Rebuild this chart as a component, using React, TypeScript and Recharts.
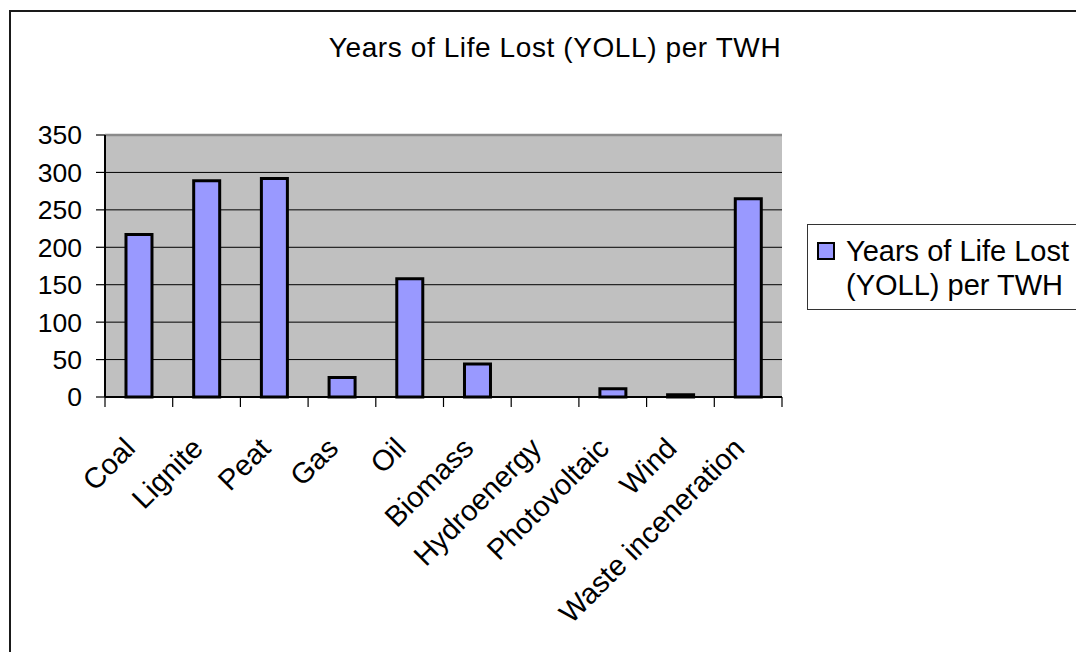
import { BarChart, Bar, XAxis, YAxis, CartesianGrid, Legend, ReferenceLine } from 'recharts';

const categories = [
    'Coal', 'Lignite', 'Peat', 'Gas', 'Oil', 'Biomass',
    'Hydroenergy', 'Photovoltaic', 'Wind', 'Waste inceneration'
];
const yollValues = [217, 289, 292, 26, 158, 44, 0, 11, 3, 265];
const yTicks = [0, 50, 100, 150, 200, 250, 300, 350];
const seriesName = 'Years of Life Lost (YOLL) per TWH';
const chartTitle = 'Years of Life Lost (YOLL) per TWH';

const data = categories.map((name, i) => ({ name, yoll: yollValues[i] }));

const FONT = '"Liberation Sans", Arial, sans-serif';
const W = 1076;
const H = 652;
const AXIS_Y = 397;
const BAND = (782 - 105) / categories.length;

function CategoryTick(props: any) {
    const { x, payload, index } = props;
    const half = payload && payload.offset ? payload.offset : BAND / 2;
    const ty = AXIS_Y + 53;
    const tx = x - 2;
    return (
        <g>
            <line x1={x - half} x2={x - half} y1={AXIS_Y} y2={AXIS_Y + 10} stroke="#000" strokeWidth={1.2} />
            {index === categories.length - 1 && (
                <line x1={x + half} x2={x + half} y1={AXIS_Y} y2={AXIS_Y + 10} stroke="#000" strokeWidth={1.2} />
            )}
            <text
                x={tx}
                y={ty}
                textAnchor="end"
                transform={`rotate(-45, ${tx}, ${ty})`}
                fontSize={29}
                fontFamily={FONT}
                fill="#000"
            >
                {payload.value}
            </text>
        </g>
    );
}

function LegendBox(props: any) {
    const item = props.payload && props.payload[0];
    return (
        <div style={{
            boxSizing: 'border-box',
            width: 300,
            height: 86,
            border: '1.5px solid #333',
            background: '#fff',
            position: 'relative',
            fontFamily: FONT
        }}>
            <div style={{
                position: 'absolute',
                left: 9,
                top: 17,
                width: 18,
                height: 18,
                boxSizing: 'border-box',
                border: '2px solid #000',
                background: item ? item.color : '#9999FF'
            }} />
            <div style={{
                position: 'absolute',
                left: 38,
                top: 9,
                fontSize: 29,
                lineHeight: '34px',
                color: '#000',
                textAlign: 'left',
                whiteSpace: 'nowrap'
            }}>
                Years of Life Lost<br />(YOLL) per TWH
            </div>
        </div>
    );
}

export default function App() {
    return (
        <div style={{ position: 'absolute', left: 0, top: 0, width: W, height: H, overflow: 'hidden', background: '#fff' }}>
            {/* outer frame, cut off at the right and bottom */}
            <div style={{
                position: 'absolute',
                left: 9,
                top: 10,
                width: 1100,
                height: 700,
                borderLeft: '2.5px solid #1a1a1a',
                borderTop: '2.5px solid #1a1a1a'
            }} />

            <div style={{
                position: 'absolute',
                left: 155,
                top: 34,
                width: 800,
                textAlign: 'center',
                fontFamily: FONT,
                fontSize: 28,
                lineHeight: '28px',
                letterSpacing: 0.6,
                color: '#000',
                whiteSpace: 'nowrap'
            }}>
                {chartTitle}
            </div>

            <div style={{ position: 'absolute', left: 0, top: 0 }}>
                <BarChart
                    width={W}
                    height={H}
                    data={data}
                    margin={{ top: 135, right: 294, bottom: 215, left: 40 }}
                    barCategoryGap="31%"
                >
                    <CartesianGrid vertical={false} stroke="#000" strokeWidth={1} fill="#C0C0C0" />
                    <XAxis
                        dataKey="name"
                        height={40}
                        interval={0}
                        tickLine={false}
                        axisLine={{ stroke: '#000', strokeWidth: 2 }}
                        tick={<CategoryTick />}
                    />
                    <YAxis
                        domain={[0, 350]}
                        ticks={yTicks}
                        interval={0}
                        width={65}
                        tickSize={9}
                        tickMargin={14}
                        axisLine={{ stroke: '#000', strokeWidth: 2 }}
                        tickLine={{ stroke: '#000', strokeWidth: 1.2 }}
                        tick={{ fontSize: 26.5, fill: '#000', fontFamily: FONT }}
                    />
                    <YAxis
                        yAxisId="frame"
                        orientation="right"
                        domain={[0, 350]}
                        width={0}
                        tick={false}
                        tickLine={false}
                        axisLine={{ stroke: '#8a8a8a', strokeWidth: 2 }}
                    />
                    <ReferenceLine y={350} stroke="#8a8a8a" strokeWidth={2.5} />
                    <Legend
                        layout="horizontal"
                        verticalAlign="middle"
                        align="center"
                        content={<LegendBox />}
                        wrapperStyle={{ position: 'absolute', left: 807, top: 224, width: 300 }}
                    />
                    <Bar
                        dataKey="yoll"
                        name={seriesName}
                        fill="#9999FF"
                        stroke="#000"
                        strokeWidth={3}
                        isAnimationActive={false}
                    />
                </BarChart>
            </div>
        </div>
    );
}
